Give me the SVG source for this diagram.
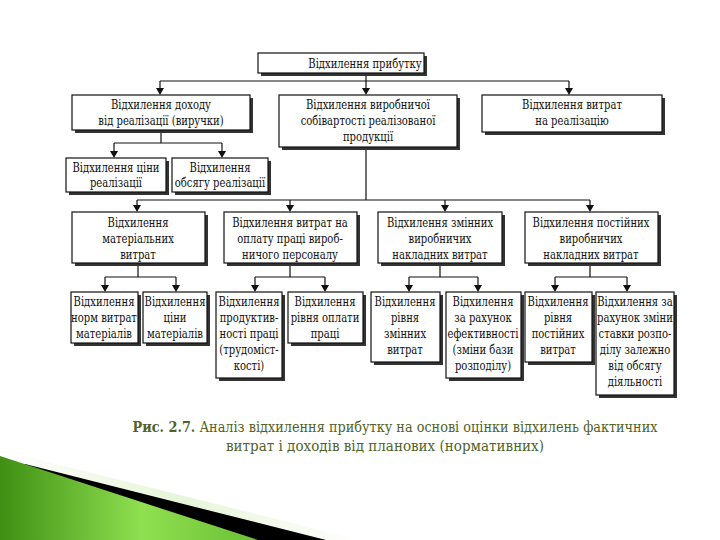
<svg xmlns="http://www.w3.org/2000/svg" width="720" height="540" viewBox="0 0 720 540">
<defs>
<linearGradient id="grn" x1="0" y1="0" x2="1" y2="0">
<stop offset="0" stop-color="#3f8f14"/>
<stop offset="0.55" stop-color="#8fe050"/>
<stop offset="1" stop-color="#6cc035"/>
</linearGradient>
<linearGradient id="pale" x1="0" y1="0" x2="1" y2="0">
<stop offset="0" stop-color="#ffffff"/>
<stop offset="0.5" stop-color="#e6f5d8"/>
<stop offset="1" stop-color="#ffffff"/>
</linearGradient>
</defs>
<style>
.box{fill:#fff;stroke:#111;stroke-width:1.2}
.sh{fill:#333}
.tg{font-family:'DejaVu Serif','Liberation Serif',serif;font-size:13px;fill:#111;text-anchor:middle}
.c{stroke:#111;stroke-width:1.2;fill:none}
.cap{font-family:'DejaVu Serif','Liberation Serif',serif;font-size:14px;fill:#4f6228;text-anchor:middle}
</style>
<rect width="720" height="540" fill="#fff"/>
<g id="decor">
<polygon points="0,450 360,540 0,540" fill="url(#pale)"/>
<polygon points="25,464 326,540 255,540 0,470" fill="#000"/>
<polygon points="0,456 258,540 0,540" fill="url(#grn)"/>
</g>
<g id="connectors">
<path class="c" d="M366,73 V93"/>
<path class="c" d="M160,81 H569 M160,81 V93 M569,81 V93"/>
<path class="c" d="M161,130 V143 M114,143 H222 M114,143 V155 M222,143 V155"/>
<path class="c" d="M366,147 V200 M137,200 H590 M137,200 V210 M290,200 V210 M445,200 V210 M590,200 V210"/>
<path class="c" d="M138,263 V277 M105,277 H176 M105,277 V289 M176,277 V289"/>
<path class="c" d="M290,263 V277 M255,277 H325 M255,277 V289 M325,277 V289"/>
<path class="c" d="M440,263 V277 M409,277 H478 M409,277 V289 M478,277 V289"/>
<path class="c" d="M590,263 V277 M555,277 H627 M555,277 V289 M627,277 V289"/>
<g fill="#111">
<path d="M362,88 L370,88 L366,95 Z"/>
<path d="M156,88 L164,88 L160,95 Z"/>
<path d="M565,88 L573,88 L569,95 Z"/>
<path d="M110,151 L118,151 L114,158 Z"/>
<path d="M218,151 L226,151 L222,158 Z"/>
<path d="M133,205 L141,205 L137,212 Z"/>
<path d="M286,205 L294,205 L290,212 Z"/>
<path d="M441,205 L449,205 L445,212 Z"/>
<path d="M586,205 L594,205 L590,212 Z"/>
<path d="M101,285 L109,285 L105,292 Z"/>
<path d="M172,285 L180,285 L176,292 Z"/>
<path d="M251,285 L259,285 L255,292 Z"/>
<path d="M321,285 L329,285 L325,292 Z"/>
<path d="M405,285 L413,285 L409,292 Z"/>
<path d="M474,285 L482,285 L478,292 Z"/>
<path d="M551,285 L559,285 L555,292 Z"/>
<path d="M623,285 L631,285 L627,292 Z"/>
</g>
</g>
<g id="n-top"><rect class="sh" x="261" y="56" width="166" height="20"/><rect class="box" x="258" y="53" width="166" height="20"/><g class="tg" transform="translate(365 0) scale(0.77 1)"><text x="0" y="68">Відхилення прибутку</text></g></g>
<g id="n-a"><rect class="sh" x="75" y="98" width="178" height="35"/><rect class="box" x="72" y="95" width="178" height="35"/><g class="tg" transform="translate(161 0) scale(0.77 1)"><text x="0" y="109">Відхилення доходу</text><text x="0" y="125">від реалізації (виручки)</text></g></g>
<g id="n-b"><rect class="sh" x="282" y="98" width="178" height="52"/><rect class="box" x="279" y="95" width="178" height="52"/><g class="tg" transform="translate(368 0) scale(0.77 1)"><text x="0" y="109">Відхилення виробничої</text><text x="0" y="125">собівартості реалізованої</text><text x="0" y="141">продукції</text></g></g>
<g id="n-c"><rect class="sh" x="485" y="98" width="180" height="37"/><rect class="box" x="482" y="95" width="180" height="37"/><g class="tg" transform="translate(572 0) scale(0.77 1)"><text x="0" y="109">Відхилення витрат</text><text x="0" y="125">на реалізацію</text></g></g>
<g id="n-a1"><rect class="sh" x="69" y="161" width="100" height="34"/><rect class="box" x="66" y="158" width="100" height="34"/><g class="tg" transform="translate(116 0) scale(0.77 1)"><text x="0" y="172">Відхилення ціни</text><text x="0" y="187">реалізації</text></g></g>
<g id="n-a2"><rect class="sh" x="175" y="161" width="96" height="34"/><rect class="box" x="172" y="158" width="96" height="34"/><g class="tg" transform="translate(220 0) scale(0.77 1)"><text x="0" y="172">Відхилення</text><text x="0" y="187">обсягу реалізації</text></g></g>
<g id="n-d"><rect class="sh" x="75" y="215" width="133" height="51"/><rect class="box" x="72" y="212" width="133" height="51"/><g class="tg" transform="translate(138 0) scale(0.77 1)"><text x="0" y="227">Відхилення</text><text x="0" y="243">матеріальних</text><text x="0" y="259">витрат</text></g></g>
<g id="n-e"><rect class="sh" x="227" y="215" width="133" height="51"/><rect class="box" x="224" y="212" width="133" height="51"/><g class="tg" transform="translate(290 0) scale(0.77 1)"><text x="0" y="227">Відхилення витрат на</text><text x="0" y="243">оплату праці вироб-</text><text x="0" y="259">ничого персоналу</text></g></g>
<g id="n-f"><rect class="sh" x="381" y="215" width="124" height="51"/><rect class="box" x="378" y="212" width="124" height="51"/><g class="tg" transform="translate(440 0) scale(0.77 1)"><text x="0" y="227">Відхилення змінних</text><text x="0" y="243">виробничих</text><text x="0" y="259">накладних витрат</text></g></g>
<g id="n-g"><rect class="sh" x="528" y="215" width="133" height="51"/><rect class="box" x="525" y="212" width="133" height="51"/><g class="tg" transform="translate(591 0) scale(0.77 1)"><text x="0" y="227">Відхилення постійних</text><text x="0" y="243">виробничих</text><text x="0" y="259">накладних витрат</text></g></g>
<g id="n-d1"><rect class="sh" x="74" y="295" width="67" height="51"/><rect class="box" x="71" y="292" width="67" height="51"/><g class="tg" transform="translate(104 0) scale(0.77 1)"><text x="0" y="306">Відхилення</text><text x="0" y="322">норм витрат</text><text x="0" y="338">матеріалів</text></g></g>
<g id="n-d2"><rect class="sh" x="146" y="295" width="64" height="51"/><rect class="box" x="143" y="292" width="64" height="51"/><g class="tg" transform="translate(175 0) scale(0.77 1)"><text x="0" y="306">Відхилення</text><text x="0" y="322">ціни</text><text x="0" y="338">матеріалів</text></g></g>
<g id="n-e1"><rect class="sh" x="219" y="295" width="66" height="86"/><rect class="box" x="216" y="292" width="66" height="86"/><g class="tg" transform="translate(249 0) scale(0.77 1)"><text x="0" y="306">Відхилення</text><text x="0" y="322">продуктив-</text><text x="0" y="338">ності праці</text><text x="0" y="354">(трудоміст-</text><text x="0" y="370">кості)</text></g></g>
<g id="n-e2"><rect class="sh" x="291" y="295" width="75" height="51"/><rect class="box" x="288" y="292" width="75" height="51"/><g class="tg" transform="translate(325 0) scale(0.77 1)"><text x="0" y="306">Відхилення</text><text x="0" y="322">рівня оплати</text><text x="0" y="338">праці</text></g></g>
<g id="n-f1"><rect class="sh" x="374" y="295" width="69" height="70"/><rect class="box" x="371" y="292" width="69" height="70"/><g class="tg" transform="translate(405 0) scale(0.77 1)"><text x="0" y="306">Відхилення</text><text x="0" y="322">рівня</text><text x="0" y="338">змінних</text><text x="0" y="354">витрат</text></g></g>
<g id="n-f2"><rect class="sh" x="449" y="295" width="75" height="86"/><rect class="box" x="446" y="292" width="75" height="86"/><g class="tg" transform="translate(483 0) scale(0.77 1)"><text x="0" y="306">Відхилення</text><text x="0" y="322">за рахунок</text><text x="0" y="338">ефективності</text><text x="0" y="354">(зміни бази</text><text x="0" y="370">розподілу)</text></g></g>
<g id="n-g1"><rect class="sh" x="528" y="295" width="67" height="70"/><rect class="box" x="525" y="292" width="67" height="70"/><g class="tg" transform="translate(558 0) scale(0.77 1)"><text x="0" y="306">Відхилення</text><text x="0" y="322">рівня</text><text x="0" y="338">постійних</text><text x="0" y="354">витрат</text></g></g>
<g id="n-g2"><rect class="sh" x="599" y="295" width="78" height="103"/><rect class="box" x="596" y="292" width="78" height="103"/><g class="tg" transform="translate(635 0) scale(0.77 1)"><text x="0" y="306">Відхилення за</text><text x="0" y="322">рахунок зміни</text><text x="0" y="338">ставки розпо-</text><text x="0" y="354">ділу залежно</text><text x="0" y="370">від обсягу</text><text x="0" y="386">діяльності</text></g></g>
<g id="caption">
<text class="cap" x="395" y="432" textLength="525" lengthAdjust="spacingAndGlyphs"><tspan font-weight="bold">Рис. 2.7.</tspan> Аналіз відхилення прибутку на основі оцінки відхилень фактичних</text>
<text class="cap" x="385" y="451" textLength="318" lengthAdjust="spacingAndGlyphs">витрат і доходів від планових (нормативних)</text>
</g>
</svg>
